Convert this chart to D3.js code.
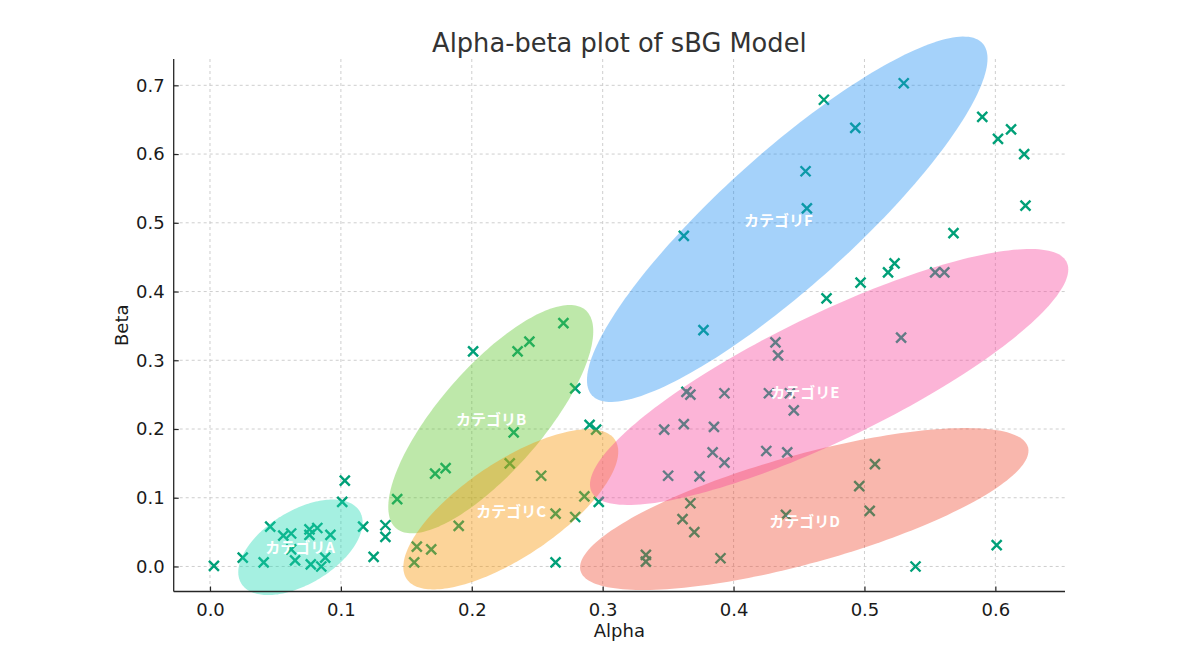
<!DOCTYPE html>
<html>
<head>
<meta charset="utf-8">
<script src="https://cdn.jsdelivr.net/npm/d3@7"></script>
<style>
  html, body { margin: 0; padding: 0; background: #fff; }
  svg { display: block; }
</style>
</head>
<body>
<svg id="chart" width="1200" height="671"></svg>
<script>
// ---------- data ----------
const alphaValues = [
  0.003, 0.025, 0.041, 0.046, 0.056, 0.062, 0.062, 0.065, 0.076, 0.076,
  0.082, 0.077, 0.085, 0.088, 0.092, 0.103, 0.101, 0.117, 0.125, 0.134,
  0.134, 0.143, 0.172, 0.180, 0.190, 0.158, 0.169, 0.156, 0.201, 0.235,
  0.244, 0.270, 0.279, 0.232, 0.290, 0.295, 0.229, 0.253, 0.286, 0.297,
  0.264, 0.279, 0.264, 0.432, 0.434, 0.364, 0.367, 0.393, 0.427, 0.443,
  0.446, 0.347, 0.362, 0.385, 0.384, 0.393, 0.425, 0.441, 0.350, 0.374,
  0.367, 0.361, 0.370, 0.333, 0.333, 0.390, 0.440, 0.496, 0.508, 0.504,
  0.377, 0.568, 0.471, 0.497, 0.518, 0.523, 0.554, 0.561, 0.528, 0.601,
  0.539, 0.530, 0.469, 0.493, 0.590, 0.612, 0.602, 0.622, 0.623, 0.455,
  0.456, 0.362
];
const betaValues = [
  0.001, 0.013, 0.006, 0.058, 0.045, 0.048, 0.025, 0.009, 0.054, 0.046,
  0.056, 0.003, 0.000, 0.013, 0.046, 0.125, 0.094, 0.058, 0.014, 0.060,
  0.043, 0.098, 0.135, 0.143, 0.059, 0.029, 0.025, 0.006, 0.313, 0.313,
  0.327, 0.354, 0.259, 0.195, 0.206, 0.199, 0.150, 0.132, 0.102, 0.094,
  0.077, 0.072, 0.006, 0.326, 0.307, 0.254, 0.250, 0.252, 0.252, 0.252,
  0.227, 0.199, 0.207, 0.203, 0.166, 0.151, 0.168, 0.166, 0.132, 0.131,
  0.092, 0.069, 0.050, 0.017, 0.007, 0.012, 0.075, 0.117, 0.149, 0.081,
  0.344, 0.485, 0.390, 0.413, 0.428, 0.441, 0.428, 0.428, 0.333, 0.031,
  0.000, 0.703, 0.679, 0.638, 0.654, 0.636, 0.622, 0.600, 0.525, 0.575,
  0.521, 0.481
];

const categoryNames = ["カテゴリA", "カテゴリB", "カテゴリC", "カテゴリD", "カテゴリE", "カテゴリF"];
// ellipse centre, half-extent along alpha, half-extent along beta, correlation
const ellipseCenterX = [0.0691, 0.2145, 0.2298, 0.4540, 0.4730, 0.4410];
const ellipseCenterY = [0.0279, 0.2143, 0.0831, 0.0836, 0.2757, 0.5051];
const ellipseSpreadX = [0.0475, 0.0783, 0.0821, 0.1713, 0.1827, 0.1530];
const ellipseSpreadY = [0.0695, 0.1661, 0.1165, 0.1178, 0.1862, 0.2658];
const ellipseCorr    = [0.52, 0.77, 0.72, 0.72, 0.84, 0.88];
// label anchor positions (data space)
const labelX = [0.0688, 0.2147, 0.2300, 0.4543, 0.4545, 0.4343];
const labelY = [0.0284, 0.2146, 0.0811, 0.0666, 0.2543, 0.5055];

const xTicks = [0.0, 0.1, 0.2, 0.3, 0.4, 0.5, 0.6];
const yTicks = [0.0, 0.1, 0.2, 0.3, 0.4, 0.5, 0.6, 0.7];

// ---------- styles ----------
const ellipseColors = ["#1ed9b4", "#5cc52a", "#f79300", "#ef4a32", "#f7439b", "#1e8ef2"];
const ellipseOpacity = 0.4;
const markerColor = "#00a078";

// ---------- layout ----------
const svg = d3.select("#chart");
const plot = { left: 173.7, right: 1065, top: 59, bottom: 591.5 };

const x = d3.scaleLinear().domain([-0.02773, 0.6532]).range([plot.left, plot.right]);
const y = d3.scaleLinear().domain([-0.0364, 0.7383]).range([plot.bottom, plot.top]);

const tickFont = "DejaVu Sans, sans-serif";

// grid
const grid = svg.append("g");
grid.selectAll("line.gx").data(xTicks).enter().append("line")
  .attr("x1", d => x(d)).attr("x2", d => x(d))
  .attr("y1", plot.top).attr("y2", plot.bottom)
  .attr("stroke", "#c8c8c8").attr("stroke-width", 0.9).attr("stroke-dasharray", "3,3");
grid.selectAll("line.gy").data(yTicks).enter().append("line")
  .attr("x1", plot.left).attr("x2", plot.right)
  .attr("y1", d => y(d)).attr("y2", d => y(d))
  .attr("stroke", "#c8c8c8").attr("stroke-width", 0.9).attr("stroke-dasharray", "3,3");

// points
const points = alphaValues.map((a, i) => ({ a, b: betaValues[i] }));
const ms = 5;
const markers = svg.append("g");
markers.selectAll("path").data(points).enter().append("path")
  .attr("d", d => {
    const cx = x(d.a), cy = y(d.b);
    return `M${cx - ms},${cy - ms}L${cx + ms},${cy + ms}M${cx - ms},${cy + ms}L${cx + ms},${cy - ms}`;
  })
  .attr("stroke", markerColor).attr("stroke-width", 2.4).attr("fill", "none");

// ellipses
const tSteps = d3.range(0, 201).map(i => i / 200 * 2 * Math.PI);
const line = d3.line().x(p => x(p[0])).y(p => y(p[1])).curve(d3.curveLinearClosed);
const ellipses = categoryNames.map((name, i) => {
  const r = ellipseCorr[i], s = Math.sqrt(1 - r * r);
  return tSteps.map(t => [
    ellipseCenterX[i] + ellipseSpreadX[i] * Math.cos(t),
    ellipseCenterY[i] + ellipseSpreadY[i] * (r * Math.cos(t) + s * Math.sin(t))
  ]);
});
svg.append("g").selectAll("path").data(ellipses).enter().append("path")
  .attr("d", d => line(d))
  .attr("fill", (d, i) => ellipseColors[i])
  .attr("fill-opacity", ellipseOpacity)
  .attr("stroke", "none");

// category labels
svg.append("g").selectAll("text").data(categoryNames).enter().append("text")
  .attr("x", (d, i) => x(labelX[i]))
  .attr("y", (d, i) => y(labelY[i]))
  .attr("text-anchor", "middle")
  .attr("dominant-baseline", "central")
  .attr("fill", "#ffffff")
  .attr("font-family", "'Noto Sans CJK JP', 'Noto Sans', sans-serif")
  .attr("font-weight", "bold")
  .attr("font-size", 15)
  .text(d => d);

// spines
svg.append("line").attr("x1", plot.left).attr("x2", plot.left)
  .attr("y1", plot.top).attr("y2", plot.bottom)
  .attr("stroke", "#262626").attr("stroke-width", 1.3);
svg.append("line").attr("x1", plot.left).attr("x2", plot.right)
  .attr("y1", plot.bottom).attr("y2", plot.bottom)
  .attr("stroke", "#262626").attr("stroke-width", 1.3);

// axes (ticks inward)
const xAxis = d3.axisBottom(x).tickValues(xTicks).tickFormat(d3.format(".1f"))
  .tickSizeInner(-5).tickSizeOuter(0).tickPadding(12);
const gx = svg.append("g").attr("transform", `translate(0,${plot.bottom})`).call(xAxis);
gx.select(".domain").remove();
gx.selectAll(".tick line").attr("stroke", "#262626").attr("stroke-width", 1.2);
gx.selectAll(".tick text").attr("font-family", tickFont).attr("font-size", 18).attr("fill", "#1a1a1a");

const yAxis = d3.axisLeft(y).tickValues(yTicks).tickFormat(d3.format(".1f"))
  .tickSizeInner(-5).tickSizeOuter(0).tickPadding(9);
const gy = svg.append("g").attr("transform", `translate(${plot.left},0)`).call(yAxis);
gy.select(".domain").remove();
gy.selectAll(".tick line").attr("stroke", "#262626").attr("stroke-width", 1.2);
gy.selectAll(".tick text").attr("font-family", tickFont).attr("font-size", 18).attr("fill", "#1a1a1a");

// title and axis labels
svg.append("text")
  .attr("x", (plot.left + plot.right) / 2).attr("y", 52)
  .attr("text-anchor", "middle")
  .attr("font-family", tickFont).attr("font-size", 25.7).attr("fill", "#333333")
  .text("Alpha-beta plot of sBG Model");

svg.append("text")
  .attr("x", (plot.left + plot.right) / 2).attr("y", 637)
  .attr("text-anchor", "middle")
  .attr("font-family", tickFont).attr("font-size", 18).attr("fill", "#1a1a1a")
  .text("Alpha");

svg.append("text")
  .attr("transform", `translate(128,${(plot.top + plot.bottom) / 2}) rotate(-90)`)
  .attr("text-anchor", "middle")
  .attr("font-family", tickFont).attr("font-size", 18).attr("fill", "#1a1a1a")
  .text("Beta");
</script>
</body>
</html>
